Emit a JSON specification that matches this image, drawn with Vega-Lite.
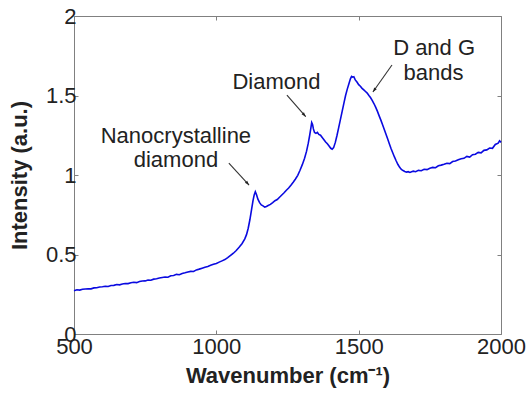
{
  "$schema": "https://vega.github.io/schema/vega-lite/v6.json",
  "width": 427,
  "height": 318,
  "autosize": {"type": "none"},
  "padding": {"left": 74, "top": 16, "right": 27, "bottom": 61},
  "config": {
    "font": "Liberation Sans",
    "view": {"stroke": "#808080", "strokeWidth": 1},
    "axis": {
      "domain": false,
      "grid": false,
      "ticks": true,
      "tickColor": "#808080",
      "tickSize": -4,
      "labelFont": "Liberation Sans",
      "labelFontSize": 22,
      "labelColor": "#222222",
      "labelFlush": false,
      "labelOverlap": false,
      "labelBound": false,
      "titleFont": "Liberation Sans",
      "titleFontSize": 22,
      "titleFontWeight": "bold",
      "titleColor": "#222222"
    }
  },
  "datasets": {
    "spectrum": [
      {"w": 500, "v": 0.272}, {"w": 510, "v": 0.278}, {"w": 520, "v": 0.276}, {"w": 530, "v": 0.281},
      {"w": 540, "v": 0.283}, {"w": 550, "v": 0.285}, {"w": 560, "v": 0.284}, {"w": 570, "v": 0.29},
      {"w": 580, "v": 0.291}, {"w": 590, "v": 0.296}, {"w": 600, "v": 0.297}, {"w": 610, "v": 0.3},
      {"w": 620, "v": 0.299}, {"w": 630, "v": 0.305}, {"w": 640, "v": 0.306}, {"w": 650, "v": 0.311},
      {"w": 660, "v": 0.309}, {"w": 670, "v": 0.314}, {"w": 680, "v": 0.318}, {"w": 690, "v": 0.317},
      {"w": 700, "v": 0.322}, {"w": 710, "v": 0.325}, {"w": 720, "v": 0.323}, {"w": 730, "v": 0.33},
      {"w": 740, "v": 0.333}, {"w": 750, "v": 0.334}, {"w": 760, "v": 0.34}, {"w": 770, "v": 0.338},
      {"w": 780, "v": 0.345}, {"w": 790, "v": 0.348}, {"w": 800, "v": 0.352}, {"w": 810, "v": 0.355},
      {"w": 820, "v": 0.358}, {"w": 830, "v": 0.357}, {"w": 840, "v": 0.366}, {"w": 850, "v": 0.368},
      {"w": 860, "v": 0.375}, {"w": 870, "v": 0.373}, {"w": 880, "v": 0.381}, {"w": 890, "v": 0.385},
      {"w": 900, "v": 0.39}, {"w": 910, "v": 0.394}, {"w": 920, "v": 0.393}, {"w": 930, "v": 0.403},
      {"w": 940, "v": 0.408}, {"w": 950, "v": 0.414}, {"w": 960, "v": 0.42}, {"w": 970, "v": 0.424},
      {"w": 980, "v": 0.432}, {"w": 990, "v": 0.438}, {"w": 1000, "v": 0.444}, {"w": 1010, "v": 0.452},
      {"w": 1020, "v": 0.46}, {"w": 1030, "v": 0.468}, {"w": 1040, "v": 0.48}, {"w": 1050, "v": 0.494},
      {"w": 1060, "v": 0.508}, {"w": 1070, "v": 0.525}, {"w": 1080, "v": 0.545}, {"w": 1090, "v": 0.568},
      {"w": 1100, "v": 0.598}, {"w": 1106, "v": 0.625}, {"w": 1112, "v": 0.665}, {"w": 1118, "v": 0.72},
      {"w": 1124, "v": 0.785}, {"w": 1129, "v": 0.84}, {"w": 1133, "v": 0.875}, {"w": 1137, "v": 0.895},
      {"w": 1141, "v": 0.878}, {"w": 1146, "v": 0.848}, {"w": 1152, "v": 0.826}, {"w": 1158, "v": 0.812},
      {"w": 1164, "v": 0.806}, {"w": 1170, "v": 0.798}, {"w": 1176, "v": 0.802}, {"w": 1182, "v": 0.808},
      {"w": 1190, "v": 0.815}, {"w": 1198, "v": 0.826}, {"w": 1206, "v": 0.838}, {"w": 1214, "v": 0.846},
      {"w": 1222, "v": 0.86}, {"w": 1230, "v": 0.874}, {"w": 1238, "v": 0.888}, {"w": 1246, "v": 0.904},
      {"w": 1254, "v": 0.918}, {"w": 1262, "v": 0.936}, {"w": 1270, "v": 0.955}, {"w": 1278, "v": 0.975},
      {"w": 1286, "v": 0.998}, {"w": 1294, "v": 1.03}, {"w": 1302, "v": 1.065}, {"w": 1310, "v": 1.105},
      {"w": 1317, "v": 1.15}, {"w": 1323, "v": 1.2}, {"w": 1328, "v": 1.25}, {"w": 1332, "v": 1.295},
      {"w": 1335, "v": 1.33}, {"w": 1338, "v": 1.318}, {"w": 1341, "v": 1.29}, {"w": 1345, "v": 1.268},
      {"w": 1350, "v": 1.262}, {"w": 1355, "v": 1.268}, {"w": 1360, "v": 1.255}, {"w": 1366, "v": 1.25},
      {"w": 1372, "v": 1.236}, {"w": 1378, "v": 1.222}, {"w": 1384, "v": 1.208}, {"w": 1390, "v": 1.196},
      {"w": 1396, "v": 1.182}, {"w": 1402, "v": 1.168}, {"w": 1407, "v": 1.162}, {"w": 1412, "v": 1.172},
      {"w": 1418, "v": 1.205}, {"w": 1424, "v": 1.25}, {"w": 1430, "v": 1.3}, {"w": 1436, "v": 1.35},
      {"w": 1442, "v": 1.4}, {"w": 1448, "v": 1.45}, {"w": 1454, "v": 1.5}, {"w": 1460, "v": 1.54},
      {"w": 1466, "v": 1.575}, {"w": 1471, "v": 1.605}, {"w": 1475, "v": 1.62}, {"w": 1479, "v": 1.615},
      {"w": 1483, "v": 1.618}, {"w": 1488, "v": 1.598}, {"w": 1494, "v": 1.585}, {"w": 1500, "v": 1.568},
      {"w": 1506, "v": 1.558}, {"w": 1512, "v": 1.545}, {"w": 1518, "v": 1.535}, {"w": 1524, "v": 1.525},
      {"w": 1530, "v": 1.515}, {"w": 1536, "v": 1.5}, {"w": 1542, "v": 1.486}, {"w": 1548, "v": 1.468},
      {"w": 1554, "v": 1.448}, {"w": 1560, "v": 1.425}, {"w": 1566, "v": 1.4}, {"w": 1572, "v": 1.372},
      {"w": 1578, "v": 1.345}, {"w": 1584, "v": 1.316}, {"w": 1590, "v": 1.286}, {"w": 1596, "v": 1.256},
      {"w": 1602, "v": 1.226}, {"w": 1608, "v": 1.195}, {"w": 1614, "v": 1.165}, {"w": 1620, "v": 1.138},
      {"w": 1626, "v": 1.112}, {"w": 1632, "v": 1.088}, {"w": 1638, "v": 1.066}, {"w": 1644, "v": 1.048},
      {"w": 1650, "v": 1.035}, {"w": 1656, "v": 1.028}, {"w": 1662, "v": 1.022}, {"w": 1668, "v": 1.018},
      {"w": 1674, "v": 1.021}, {"w": 1680, "v": 1.016}, {"w": 1686, "v": 1.02}, {"w": 1692, "v": 1.024},
      {"w": 1700, "v": 1.021}, {"w": 1710, "v": 1.029}, {"w": 1720, "v": 1.027}, {"w": 1730, "v": 1.036},
      {"w": 1740, "v": 1.034}, {"w": 1750, "v": 1.043}, {"w": 1760, "v": 1.048}, {"w": 1770, "v": 1.046},
      {"w": 1780, "v": 1.058}, {"w": 1790, "v": 1.062}, {"w": 1800, "v": 1.067}, {"w": 1810, "v": 1.074},
      {"w": 1820, "v": 1.072}, {"w": 1830, "v": 1.085}, {"w": 1840, "v": 1.088}, {"w": 1850, "v": 1.096},
      {"w": 1860, "v": 1.102}, {"w": 1870, "v": 1.105}, {"w": 1880, "v": 1.117}, {"w": 1890, "v": 1.113},
      {"w": 1900, "v": 1.128}, {"w": 1910, "v": 1.131}, {"w": 1920, "v": 1.142}, {"w": 1930, "v": 1.139},
      {"w": 1940, "v": 1.155}, {"w": 1950, "v": 1.158}, {"w": 1960, "v": 1.17}, {"w": 1970, "v": 1.168},
      {"w": 1980, "v": 1.192}, {"w": 1990, "v": 1.2}, {"w": 1995, "v": 1.215}, {"w": 2000, "v": 1.205}
    ],
    "arrows": [
      {"name": "nano", "x1": 1044, "y1": 1.075, "x2": 1115, "y2": 0.937, "a": 137.7},
      {"name": "diamond", "x1": 1248, "y1": 1.503, "x2": 1314, "y2": 1.367, "a": 139.2},
      {"name": "dg", "x1": 1617, "y1": 1.692, "x2": 1550, "y2": 1.522, "a": 215.1}
    ],
    "labels": [
      {"x": 858, "y": 1.199, "t": "Nanocrystalline"},
      {"x": 858, "y": 1.052, "t": "diamond"},
      {"x": 1211, "y": 1.539, "t": "Diamond"},
      {"x": 1765, "y": 1.755, "t": "D and G"},
      {"x": 1763, "y": 1.597, "t": "bands"}
    ]
  },
  "layer": [
    {
      "data": {"name": "spectrum"},
      "mark": {"type": "line", "color": "#0a0ae0", "strokeWidth": 1.6},
      "encoding": {
        "x": {
          "field": "w", "type": "quantitative",
          "scale": {"domain": [500, 2000], "nice": false, "zero": false},
          "axis": {"orient": "bottom", "values": [500, 1000, 1500, 2000], "format": "d", "title": "Wavenumber (cm⁻¹)", "labelPadding": 6, "titlePadding": 8}
        },
        "y": {
          "field": "v", "type": "quantitative",
          "scale": {"domain": [0, 2], "nice": false, "zero": false},
          "axis": {"orient": "left", "values": [0, 0.5, 1, 1.5, 2], "format": "~g", "title": "Intensity (a.u.)", "labelPadding": 2, "titlePadding": 14}
        }
      }
    },
    {
      "data": {"name": "arrows"},
      "mark": {"type": "rule", "color": "#333333", "strokeWidth": 1.1},
      "encoding": {
        "x": {"field": "x1", "type": "quantitative", "axis": {"orient": "top", "values": [500, 1000, 1500, 2000], "labels": false, "title": null}},
        "y": {"field": "y1", "type": "quantitative", "axis": {"orient": "right", "values": [0, 0.5, 1, 1.5, 2], "labels": false, "title": null}},
        "x2": {"field": "x2"},
        "y2": {"field": "y2"}
      }
    },
    {
      "data": {"name": "arrows"},
      "mark": {"type": "point", "shape": "M0,0L-0.35,1L0.35,1Z", "filled": true, "color": "#222222", "opacity": 1, "size": 81},
      "encoding": {
        "x": {"field": "x2", "type": "quantitative", "axis": null},
        "y": {"field": "y2", "type": "quantitative", "axis": null},
        "angle": {"field": "a", "type": "quantitative", "scale": null}
      }
    },
    {
      "data": {"name": "labels"},
      "mark": {"type": "text", "align": "center", "baseline": "alphabetic", "fontSize": 22, "font": "Liberation Sans", "color": "#222222"},
      "encoding": {
        "x": {"field": "x", "type": "quantitative", "axis": null},
        "y": {"field": "y", "type": "quantitative", "axis": null},
        "text": {"field": "t"}
      }
    }
  ],
  "resolve": {"axis": {"x": "independent", "y": "independent"}}
}
